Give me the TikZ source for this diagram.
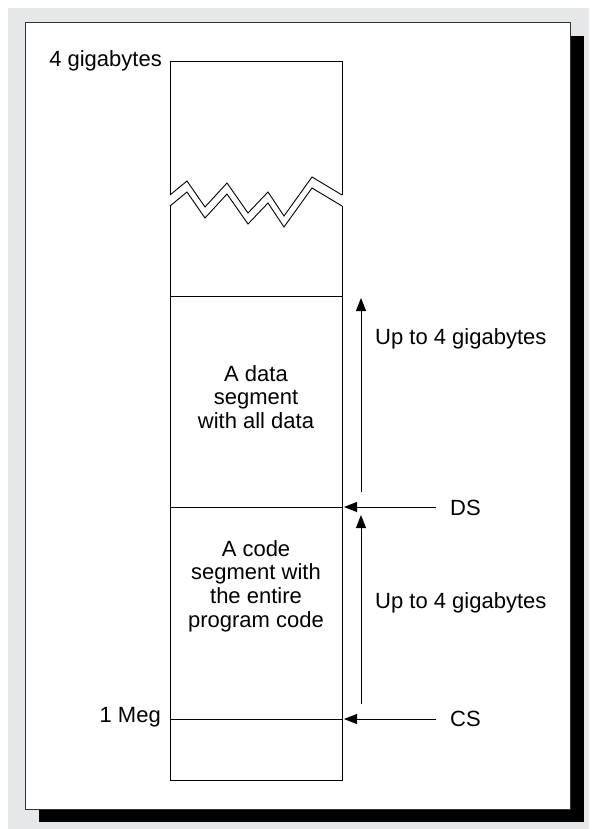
\documentclass[tikz,border=0pt]{standalone}
\usepackage{fontspec}
\setmainfont{Liberation Sans}
\usetikzlibrary{arrows.meta}
\definecolor{bggrey}{RGB}{230,231,232}
\tikzset{
  lbl/.style={inner sep=0pt, font=\fontsize{22}{23.7}\selectfont},
  seg/.style={lbl, align=center},
  mem/.style={draw=black, line width=0.9pt},
  ptr/.style={draw=black, line width=0.9pt, -{Triangle[length=13pt,width=10pt]}},
}
\begin{document}
\begin{tikzpicture}[x=1pt,y=-1pt]
\useasboundingbox (0,0) rectangle (589,829);
\fill[white] (0,0) rectangle (589,829);
\fill[bggrey] (8,8) rectangle (589,829);
\fill[black] (39,36) rectangle (584,822);
\filldraw[fill=white, draw=black!80, line width=0.9pt] (25,22) rectangle (570,809);

% column corners
\coordinate (tl) at (170,61);
\coordinate (tr) at (342,61);
\coordinate (bl) at (170,780);
\coordinate (br) at (342,780);
\coordinate (zlu) at (170,195);
\coordinate (zru) at (342,195);
\coordinate (zll) at (170,206);
\coordinate (zrl) at (342,206);
\coordinate (dl) at (170,296);
\coordinate (dr) at (342,296);
\coordinate (dsl) at (170,507);
\coordinate (dsr) at (342,507);
\coordinate (csl) at (170,719);
\coordinate (csr) at (342,719);

% top part
\draw[mem] (zlu) -- (tl) -- (tr) -- (zru);
% zigzags
\draw[mem, line join=miter] (zlu) -- (187,181) -- (205,207) -- (227,183) -- (248,213) -- (268,192) -- (284,216) -- (312,177) -- (zru);
\draw[mem, line join=miter] (zll) -- (187,192) -- (205,218) -- (227,194) -- (248,224) -- (268,203) -- (284,227) -- (312,188) -- (zrl);
% lower part
\draw[mem] (zll) -- (bl) -- (br) -- (zrl);
\draw[mem] (dl) -- (dr);
\draw[mem] (dsl) -- (dsr);
\draw[mem] (csl) -- (csr);

% texts
\node[lbl, anchor=base east] (g4) at (162,67) {4 gigabytes};
\node[lbl, anchor=east] (meg) at (161,717) {1 Meg};
\node[seg] (data) at (256,397) {A data\\segment\\with all data};
\node[seg] (code) at (256,586) {A code\\segment with\\the entire\\program code};
\node[lbl, anchor=west] (up1) at (375,339) {Up to 4 gigabytes};
\node[lbl, anchor=west] (up2) at (375,603) {Up to 4 gigabytes};
\node[lbl, anchor=west] (ds) at (450,508) {DS};
\node[lbl, anchor=west] (cs) at (450,719) {CS};

% pointer arrows
\coordinate (dsa) at (436,507);
\coordinate (csa) at (436,719);
\coordinate (dstip) at (344,507);
\coordinate (cstip) at (344,719);
\draw[ptr] (dsa) -- (dstip);
\draw[ptr] (csa) -- (cstip);

% vertical extent arrows
\coordinate (v1b) at (361,492);
\coordinate (v1t) at (361,298);
\coordinate (v2b) at (361,704);
\coordinate (v2t) at (361,515);
\draw[ptr] (v1b) -- (v1t);
\draw[ptr] (v2b) -- (v2t);
\end{tikzpicture}
\end{document}
